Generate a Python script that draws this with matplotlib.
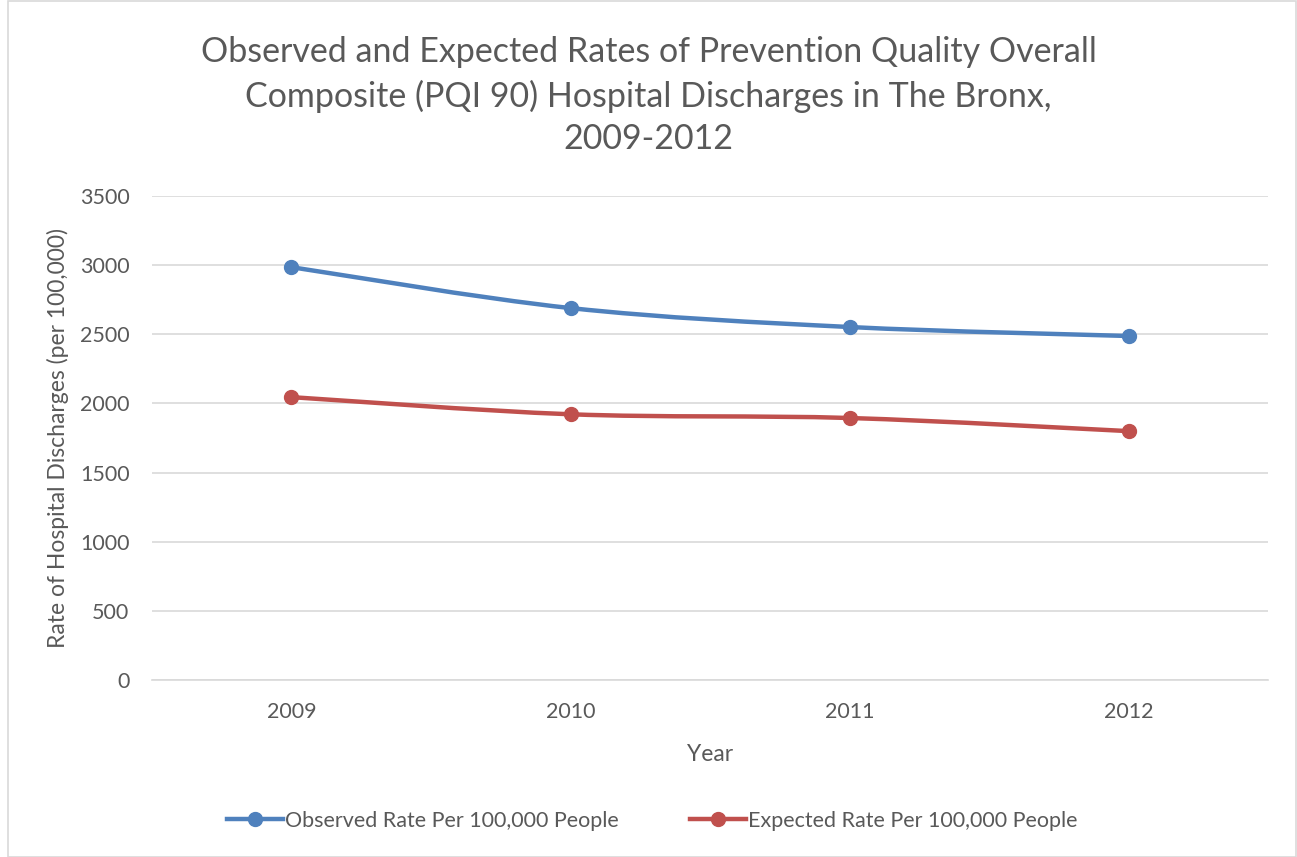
import matplotlib.pyplot as plt
from matplotlib.path import Path
from matplotlib.patches import PathPatch, Rectangle
from matplotlib.lines import Line2D

plt.rcParams['font.family'] = ['Lato', 'DejaVu Sans']

years = ['2009', '2010', '2011', '2012']
observed = [2986, 2690, 2553, 2488]
expected = [2046, 1922, 1895, 1800]

blue = '#4f81bd'
red = '#c0504d'
text_col = '#595959'

fig = plt.figure(figsize=(12.97, 8.57), dpi=100)
ax = fig.add_axes([0.117, 0.2065, 0.861, 0.5647])


def smooth_path(xs, ys):
    # catmull-rom style bezier like the excel "smoothed line"
    pts = list(zip(xs, ys))
    verts = [pts[0]]
    codes = [Path.MOVETO]
    n = len(pts)
    for i in range(n - 1):
        p0 = pts[max(i - 1, 0)]
        p1 = pts[i]
        p2 = pts[i + 1]
        p3 = pts[min(i + 2, n - 1)]
        c1 = (p1[0] + (p2[0] - p0[0]) / 6, p1[1] + (p2[1] - p0[1]) / 6)
        c2 = (p2[0] - (p3[0] - p1[0]) / 6, p2[1] - (p3[1] - p1[1]) / 6)
        verts += [c1, c2, p2]
        codes += [Path.CURVE4] * 3
    return Path(verts, codes)


x = list(range(len(years)))
for vals, col in [(observed, blue), (expected, red)]:
    ax.add_patch(PathPatch(smooth_path(x, vals), facecolor='none', edgecolor=col,
                           lw=3.2, capstyle='round', zorder=3))
    ax.plot(x, vals, 'o', color=col, ms=10, zorder=4)

ax.set_xlim(-0.5, 3.5)
ax.set_ylim(0, 3500)
ax.set_yticks(range(0, 3501, 500))
ax.set_xticks(x)
ax.set_xticklabels(years)
ax.grid(axis='y', color='#d9d9d9', lw=1.2)
ax.set_axisbelow(True)
for s in ['top', 'right', 'left']:
    ax.spines[s].set_visible(False)
ax.spines['bottom'].set_color('#d9d9d9')
ax.spines['bottom'].set_linewidth(1.2)
ax.tick_params(length=0, labelsize=15.5, colors=text_col)
ax.tick_params(axis='x', pad=16)
ax.tick_params(axis='y', pad=16)

ax.set_xlabel('Year', fontsize=16.5, color=text_col, labelpad=16)
ax.set_ylabel('Rate of Hospital Discharges (per 100,000)', fontsize=16.5,
              color=text_col, labelpad=8)

fig.text(0.5, 0.958, 'Observed and Expected Rates of Prevention Quality Overall\n'
         'Composite (PQI 90) Hospital Discharges in The Bronx,\n2009-2012',
         ha='center', va='top', fontsize=24.5, color=text_col, linespacing=1.42)

handles = [Line2D([], [], color=blue, lw=3.2, marker='o', ms=10),
           Line2D([], [], color=red, lw=3.2, marker='o', ms=10)]
fig.legend(handles, ['Observed Rate Per 100,000 People', 'Expected Rate Per 100,000 People'],
           loc='center', bbox_to_anchor=(0.503, 0.042), ncol=2, frameon=False,
           fontsize=15.5, labelcolor=text_col, handlelength=2.6, handletextpad=0.1,
           columnspacing=3.3)

fig.patches.append(Rectangle((0.006, 0.0), 0.993, 0.999, transform=fig.transFigure,
                             fill=False, edgecolor='#d9d9d9', lw=1.2))

fig.savefig('out.png', dpi=100)
plt.close(fig)
